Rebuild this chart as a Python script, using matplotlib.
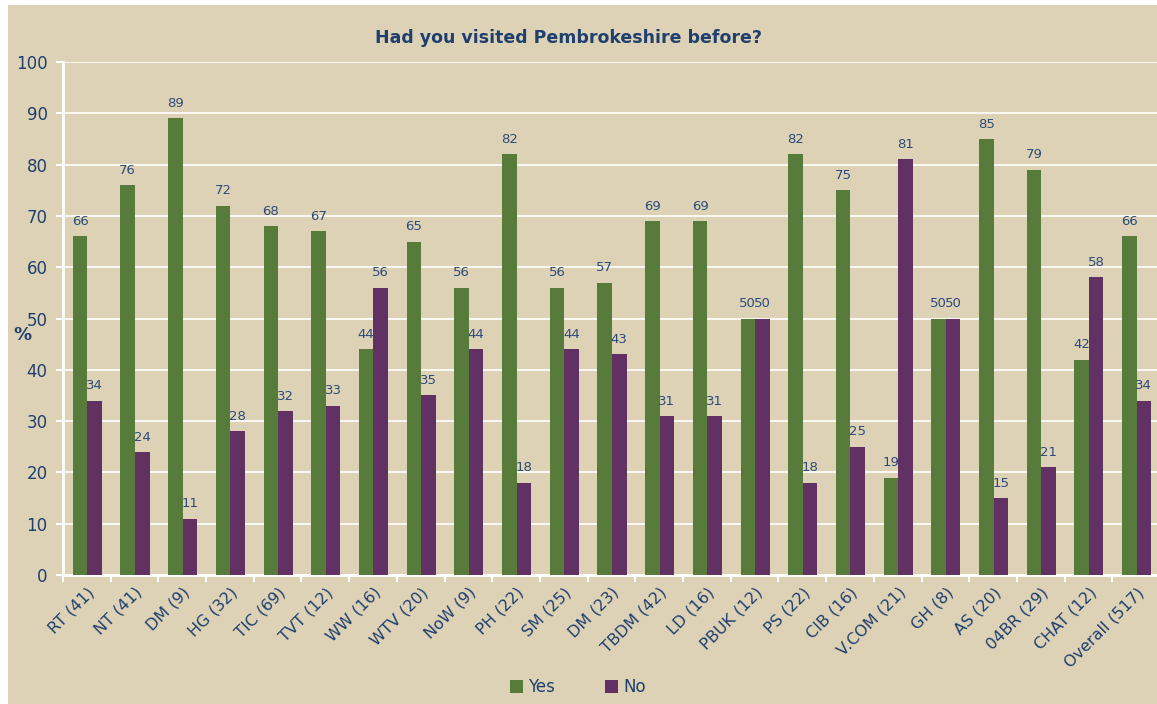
import matplotlib
matplotlib.use("Agg")
import matplotlib.pyplot as plt
import numpy as np
from matplotlib.patches import Rectangle

categories = ["RT (41)", "NT (41)", "DM (9)", "HG (32)", "TIC (69)", "TVT (12)",
              "WW (16)", "WTV (20)", "NoW (9)", "PH (22)", "SM (25)", "DM (23)",
              "TBDM (42)", "LD (16)", "PBUK (12)", "PS (22)", "CIB (16)",
              "V.COM (21)", "GH (8)", "AS (20)", "04BR (29)", "CHAT (12)",
              "Overall (517)"]
yes_vals = [66, 76, 89, 72, 68, 67, 44, 65, 56, 82, 56, 57, 69, 69, 50, 82, 75,
            19, 50, 85, 79, 42, 66]
no_vals = [34, 24, 11, 28, 32, 33, 56, 35, 44, 18, 44, 43, 31, 31, 50, 18, 25,
           81, 50, 15, 21, 58, 34]

bg = "#ddd2b6"
green = "#567b3a"
purple = "#623163"
navy = "#1f3f6e"

fig = plt.figure(figsize=(11.57, 7.04), dpi=100)
fig.patch.set_facecolor("white")
fig.add_artist(Rectangle((8 / 1157, 0), 1, 1 - 5 / 704, transform=fig.transFigure,
                         facecolor=bg, edgecolor="none", zorder=0))

ax = fig.add_axes([63 / 1157, 1 - 575 / 704, 1097 / 1157, 513 / 704])
ax.set_facecolor(bg)

x = np.arange(len(categories))
w = 0.305
centers = x + 0.5
b1 = ax.bar(centers - w / 2 + 0.01, yes_vals, w, color=green, label="Yes", zorder=3)
b2 = ax.bar(centers + w / 2 + 0.01, no_vals, w, color=purple, label="No", zorder=3)

# value labels over each bar
for bars, vals in ((b1, yes_vals), (b2, no_vals)):
    for b, v in zip(bars, vals):
        ax.annotate(str(v), (b.get_x() + b.get_width() / 2, v), xytext=(0, 6),
                    textcoords="offset points", ha="center", va="bottom",
                    fontsize=9.5, color="#2e4a78")

ax.set_xlim(0, len(categories))
ax.set_ylim(0, 100)
ax.set_yticks(range(0, 101, 10))
ax.set_xticks(x, minor=False)
ax.set_xticklabels([])
ax.set_xticks(centers, minor=True)
ax.set_xticklabels(categories, minor=True, rotation=45, ha="right",
                   rotation_mode="anchor", fontsize=11.5, color=navy)
ax.tick_params(axis="x", which="minor", length=0, pad=7)
ax.tick_params(axis="x", which="major", length=5, color="white", width=1.5)
ax.tick_params(axis="y", length=5, color="white", width=1.5, labelsize=12,
               labelcolor=navy, pad=6)

ax.grid(axis="y", color="white", linewidth=1.2, zorder=0)
ax.set_axisbelow(True)
for s in ("top", "right"):
    ax.spines[s].set_visible(False)
for s in ("left", "bottom"):
    ax.spines[s].set_color("white")
    ax.spines[s].set_linewidth(2)

fig.text(22 / 1157, 1 - 335 / 704, "%", ha="center", va="center",
         fontsize=13, fontweight="bold", color=navy)

fig.text(0.5 - 10 / 1157, 1 - 38 / 704, "Had you visited Pembrokeshire before?",
         ha="center", va="center", fontsize=12.5, fontweight="bold", color=navy)

fig.legend(handles=[b1, b2], labels=["Yes", "No"], loc="center",
           bbox_to_anchor=(578 / 1157, 1 - 687 / 704), ncol=2, frameon=False,
           fontsize=12, labelcolor=navy, handlelength=0.8, handleheight=0.8,
           handletextpad=0.3, columnspacing=3)

fig.savefig("out.png", dpi=100, facecolor=fig.get_facecolor())
